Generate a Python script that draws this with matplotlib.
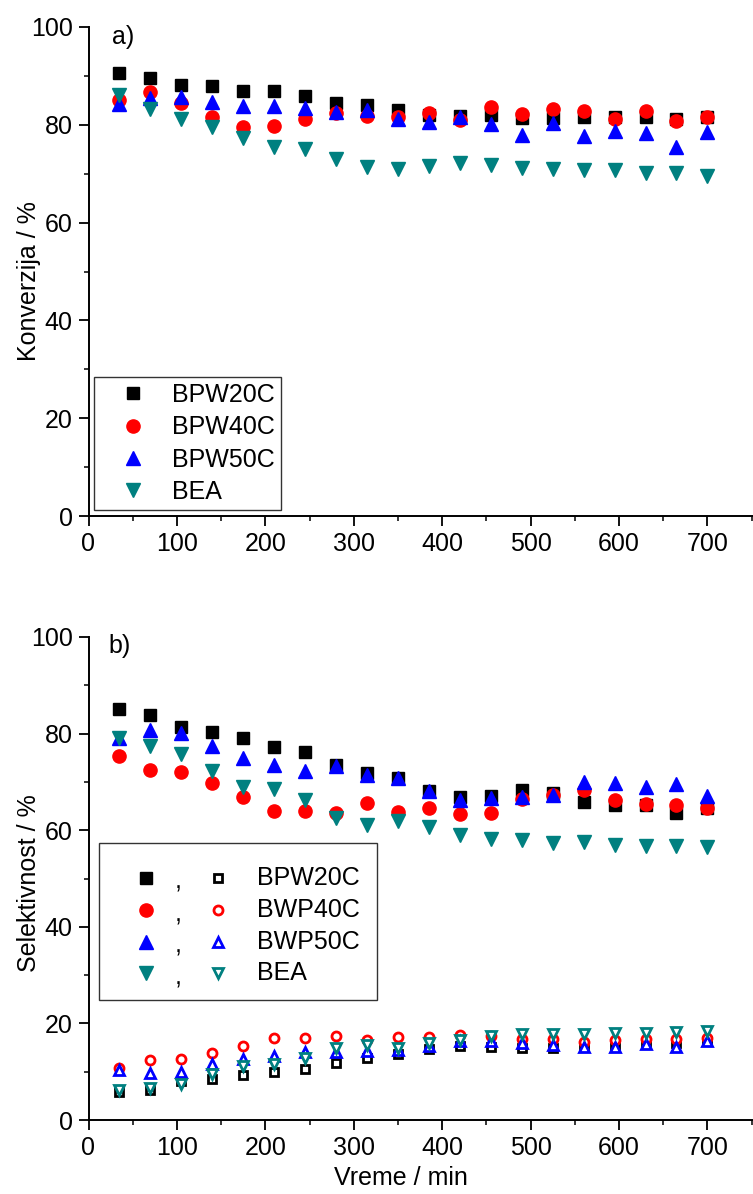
import numpy as np
import matplotlib.pyplot as plt
from matplotlib.patches import Rectangle
from matplotlib.ticker import MultipleLocator

plt.rcParams['font.family'] = ['Liberation Sans', 'DejaVu Sans']

# time points (min)
time = [35, 70, 105, 140, 175, 210, 245, 280, 315, 350,
        385, 420, 455, 490, 525, 560, 595, 630, 665, 700]

# a) conversion, %
konv_bpw20 = [90.5, 89.5, 88.1, 88.0, 86.9, 86.9, 85.9, 84.4, 84.1, 83.0,
              82.1, 81.8, 82.0, 81.3, 81.3, 81.6, 81.6, 81.5, 81.1, 81.6]
konv_bpw40 = [85.0, 86.7, 84.5, 81.5, 79.6, 79.7, 81.1, 82.5, 81.8, 81.6,
              82.5, 81.0, 83.7, 82.2, 83.2, 82.9, 81.2, 82.9, 80.8, 81.6]
konv_bpw50 = [84.2, 85.4, 85.7, 84.7, 83.8, 83.8, 83.5, 82.7, 83.0, 81.1,
              80.6, 81.5, 80.1, 77.9, 80.3, 77.7, 78.8, 78.4, 75.4, 78.6]
konv_bea = [86.1, 83.3, 81.1, 79.6, 77.4, 75.5, 75.0, 73.0, 71.4, 71.0,
            71.6, 72.2, 71.7, 71.1, 70.9, 70.7, 70.7, 70.2, 70.1, 69.6]

# b) selectivity, %  (filled = upper product, open = lower product)
sel_bpw20 = [85.0, 83.9, 81.4, 80.3, 79.0, 77.3, 76.1, 73.5, 71.8, 70.8,
             68.2, 66.8, 67.0, 68.3, 67.8, 65.8, 65.3, 65.3, 63.5, 64.5]
sel_bpw40 = [75.4, 72.5, 72.0, 69.8, 66.8, 64.0, 64.0, 63.5, 65.6, 63.8,
             64.5, 63.3, 63.6, 66.5, 67.2, 68.3, 66.2, 65.4, 65.3, 64.6]
sel_bpw50 = [79.0, 80.7, 80.1, 77.4, 75.0, 73.5, 72.2, 73.3, 71.5, 70.8,
             68.2, 66.2, 66.6, 66.8, 67.2, 70.0, 69.8, 68.9, 69.6, 67.0]
sel_bea = [79.0, 77.5, 75.7, 72.2, 68.9, 68.6, 66.2, 62.5, 61.0, 62.0,
           60.6, 59.0, 58.2, 58.0, 57.4, 57.5, 57.0, 56.7, 56.7, 56.6]

low_bpw20 = [5.8, 6.3, 8.0, 8.4, 9.4, 10.0, 10.6, 11.9, 12.9, 13.6,
             14.6, 15.3, 15.2, 14.9, 15.0, 15.2, 15.5, 15.7, 16.0, 16.3]
low_bpw40 = [10.8, 12.4, 12.7, 13.9, 15.4, 16.9, 16.9, 17.4, 16.5, 17.2,
             17.1, 17.5, 17.3, 16.8, 16.8, 16.2, 16.5, 16.7, 16.8, 17.0]
low_bpw50 = [10.3, 9.7, 10.0, 11.5, 12.7, 13.3, 14.1, 14.1, 14.2, 14.4,
             15.4, 16.3, 16.3, 15.9, 15.6, 15.2, 15.1, 15.7, 15.2, 16.3]
low_bea = [6.2, 6.6, 7.4, 9.5, 11.2, 11.5, 12.9, 14.9, 15.6, 15.0,
           15.9, 16.6, 17.3, 17.8, 17.8, 17.8, 18.1, 18.1, 18.2, 18.4]

labels_a = ['BPW20C', 'BPW40C', 'BPW50C', 'BEA']
labels_b = ['BPW20C', 'BWP40C', 'BWP50C', 'BEA']
colors = ['black', '#ff0000', '#0000ff', '#008080']
markers = ['s', 'o', '^', 'v']
msizes = [8.5, 9.5, 10, 10]
open_sizes = [6, 6.5, 7.5, 7.5]

FS = 18

fig = plt.figure(figsize=(7.53, 11.94), dpi=100)
ax1 = fig.add_axes([88.5 / 753, (1194 - 516) / 1194, 664 / 753, 489 / 1194])
ax2 = fig.add_axes([88.5 / 753, (1194 - 1120) / 1194, 664 / 753, 483 / 1194])


def style_axis(ax):
    ax.set_xlim(0, 751)
    ax.set_ylim(0, 100)
    ax.spines['top'].set_visible(False)
    ax.spines['right'].set_visible(False)
    for s in ['left', 'bottom']:
        ax.spines[s].set_linewidth(1.4)
    ax.xaxis.set_major_locator(MultipleLocator(100))
    ax.xaxis.set_minor_locator(MultipleLocator(50))
    ax.yaxis.set_major_locator(MultipleLocator(20))
    ax.yaxis.set_minor_locator(MultipleLocator(10))
    ax.tick_params(which='major', direction='out', length=7, width=1.3,
                   labelsize=FS, pad=4.5)
    ax.tick_params(which='minor', direction='out', length=3.8, width=1.1)


# ---- a) ----
konv = [konv_bpw20, konv_bpw40, konv_bpw50, konv_bea]
for y, c, m, ms, lab in zip(konv, colors, markers, msizes, labels_a):
    ax1.plot(time, y, linestyle='none', marker=m, ms=ms, color=c,
             markeredgecolor=c, label=lab, clip_on=False)
style_axis(ax1)
ax1.set_ylabel('Konverzija / %', fontsize=FS)
ax1.yaxis.set_label_coords(-0.072, 0.48)
ax1.text(0.035, 0.98, 'a)', transform=ax1.transAxes, fontsize=FS,
         ha='left', va='center')
leg = ax1.legend(loc='lower left', bbox_to_anchor=(0.0087, 0.012),
                 borderaxespad=0, fontsize=FS, frameon=True, fancybox=False,
                 framealpha=1, edgecolor='#333333', borderpad=0.25,
                 handlelength=2.6, handletextpad=0.25, labelspacing=0.33)
leg.get_frame().set_linewidth(1.0)

# ---- b) ----
sel = [sel_bpw20, sel_bpw40, sel_bpw50, sel_bea]
low = [low_bpw20, low_bpw40, low_bpw50, low_bea]
for y, c, m, ms in zip(sel, colors, markers, msizes):
    ax2.plot(time, y, linestyle='none', marker=m, ms=ms, color=c,
             markeredgecolor=c, clip_on=False)
for y, c, m, ms in zip(low, colors, markers, open_sizes):
    ax2.plot(time, y, linestyle='none', marker=m, ms=ms, markerfacecolor='white',
             markeredgecolor=c, markeredgewidth=2.0, clip_on=False)
style_axis(ax2)
ax2.set_ylabel('Selektivnost / %', fontsize=FS)
ax2.yaxis.set_label_coords(-0.072, 0.49)
ax2.set_xlabel('Vreme / min', fontsize=FS)
ax2.xaxis.set_label_coords(0.47, -0.095)
ax2.text(0.03, 0.982, 'b)', transform=ax2.transAxes, fontsize=FS,
         ha='left', va='center')

# custom legend for b): filled , open  label
tr = ax2.transAxes
ax2.add_patch(Rectangle((0.0158, 0.249), 0.4345 - 0.0158, 0.5735 - 0.249,
                        transform=tr, fill=False, edgecolor='#333333',
                        linewidth=1.0, clip_on=False))
rows = [0.502, 0.4347, 0.3694, 0.304]
for ry, c, m, ms, oms, lab in zip(rows, colors, markers, msizes, open_sizes, labels_b):
    ax2.plot([0.0866], [ry], transform=tr, linestyle='none', marker=m,
             ms=ms, color=c, markeredgecolor=c, clip_on=False)
    ax2.text(0.1348, ry - 0.009, ',', transform=tr, fontsize=FS,
             ha='center', va='center')
    ax2.plot([0.195], [ry], transform=tr, linestyle='none', marker=m,
             ms=oms, markerfacecolor='white', markeredgecolor=c,
             markeredgewidth=2.0, clip_on=False)
    ax2.text(0.2538, ry, lab, transform=tr, fontsize=FS,
             ha='left', va='center')

fig.savefig('out.png', dpi=100)
